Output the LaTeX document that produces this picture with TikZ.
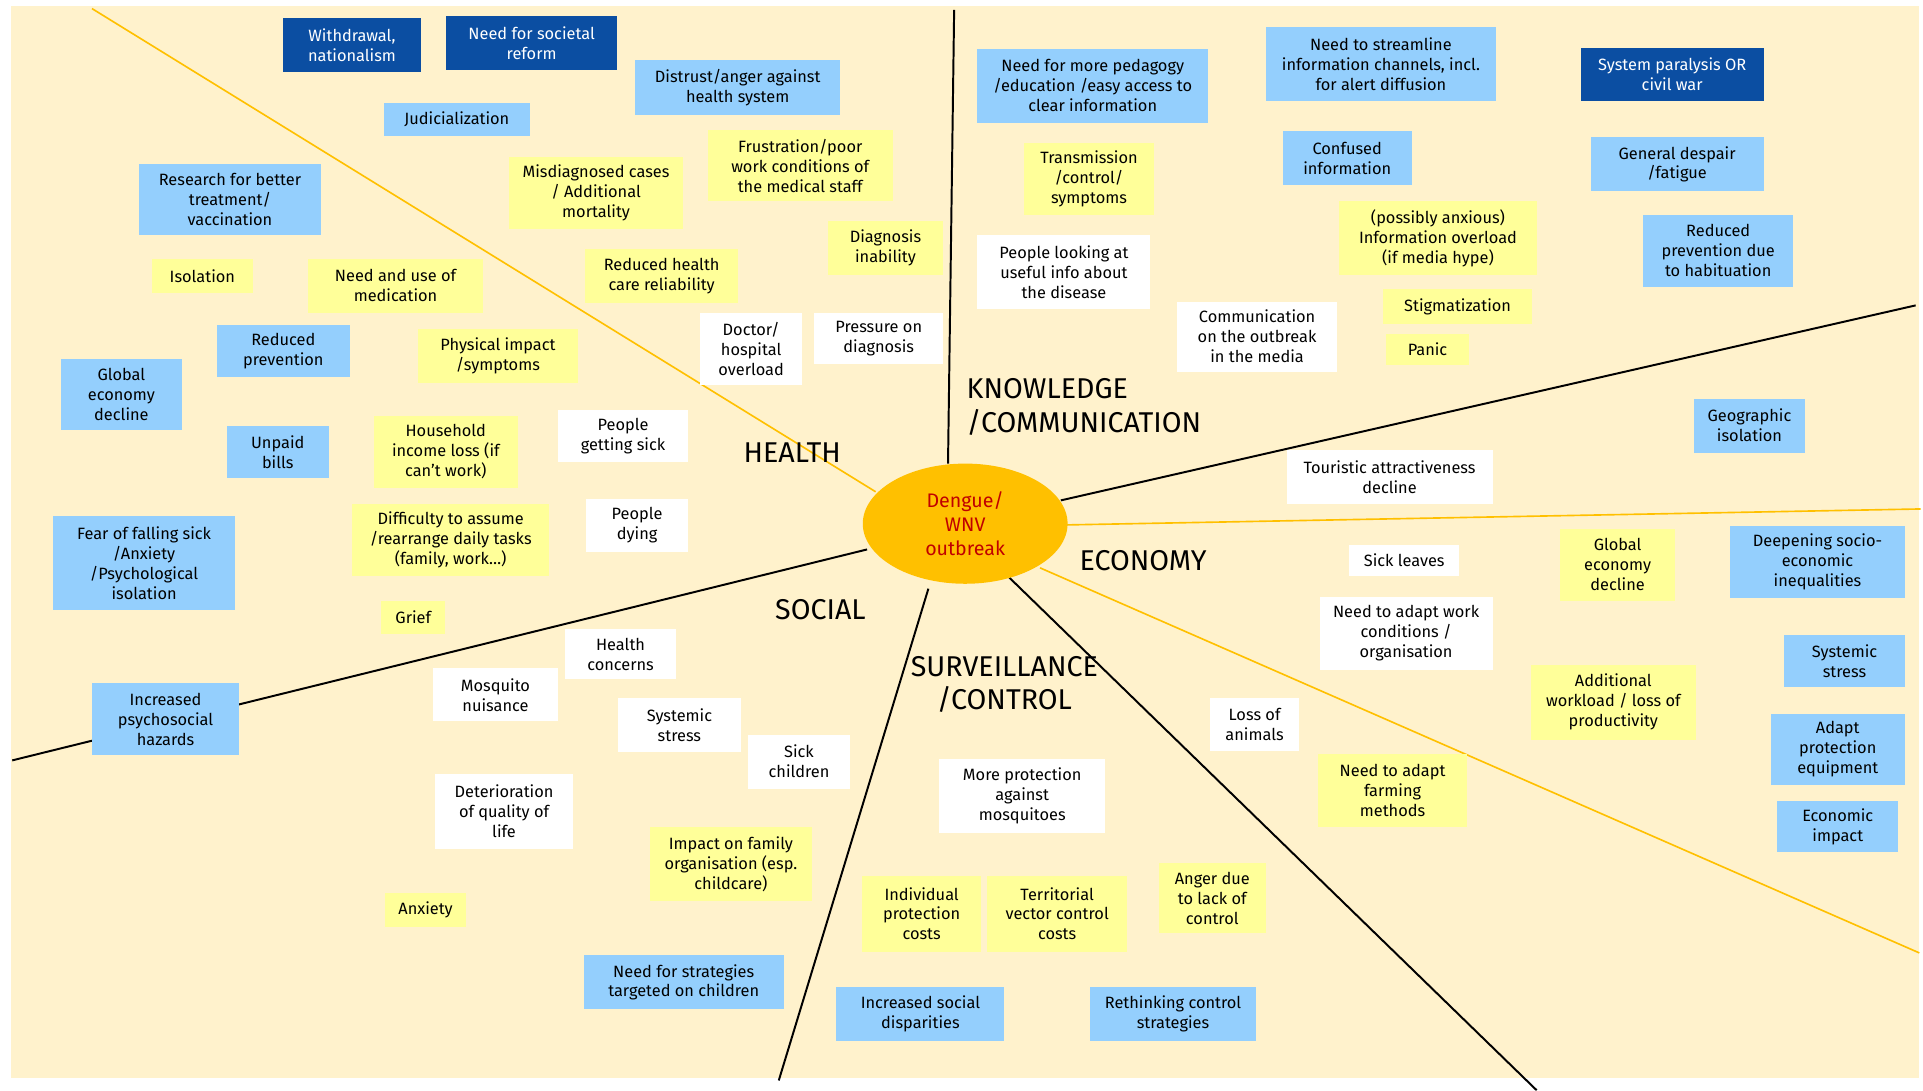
\documentclass[tikz,border=0pt]{standalone}
\usepackage{fontspec}
\setmainfont{Fira Sans}
\usetikzlibrary{shapes.geometric}
\definecolor{cream}{HTML}{FFF2CC}
\definecolor{dkblue}{HTML}{0B4EA2}
\definecolor{ltblue}{HTML}{94CFFD}
\definecolor{sticky}{HTML}{FFFF99}
\definecolor{gold}{HTML}{FFC000}
\definecolor{darkred}{HTML}{C00000}
\tikzset{
  box/.style={rectangle,inner sep=1pt,align=center,font=\fontsize{10}{12.2}\selectfont},
  dk/.style={fill=dkblue,text=white},
  lb/.style={fill=ltblue},
  yl/.style={fill=sticky},
  wh/.style={fill=white},
  cat/.style={inner sep=0pt,font=\fontsize{17.5}{20.5}\selectfont},
  blackdiv/.style={draw=black,line width=1.2pt},
  golddiv/.style={draw=gold,line width=1pt},
}
\newcommand\stickybox[7]{%
  \node[box,#2,minimum width={(#5-#3)*0.75pt},minimum height={(#6-#4)*0.75pt}] (#1) at ({(#3+#5)/2},{(#4+#6)/2}) {#7};}
\begin{document}
\begin{tikzpicture}[x=0.75pt,y=-0.75pt]
\useasboundingbox (0,0) rectangle (1568,889);
\fill[white] (0,0) rectangle (1568,889);
\fill[cream] (9,5) rectangle (1565,879);
% divider end points
\coordinate (hA) at (75,7);     \coordinate (hB) at (714,401);
\coordinate (kA) at (778,8);    \coordinate (kB) at (773,378);
\coordinate (e1A) at (865,408); \coordinate (e1B) at (1562,249);
\coordinate (e2A) at (870,428); \coordinate (e2B) at (1566,415);
\coordinate (e3A) at (848,463); \coordinate (e3B) at (1565,777);
\coordinate (s1A) at (823,471); \coordinate (s1B) at (1253,889);
\coordinate (s2A) at (757,480); \coordinate (s2B) at (635,881);
\coordinate (s3A) at (707,448); \coordinate (s3B) at (10,620);
\draw[golddiv] (hA) -- (hB);
\draw[blackdiv] (kA) -- (kB);
\draw[blackdiv] (e1A) -- (e1B);
\draw[golddiv] (e2A) -- (e2B);
\draw[golddiv] (e3A) -- (e3B);
\draw[blackdiv] (s1A) -- (s1B);
\draw[blackdiv] (s2A) -- (s2B);
\draw[blackdiv] (s3A) -- (s3B);
% centre
\node[ellipse,fill=gold,minimum width={167*0.75pt},minimum height={98*0.75pt},inner sep=0pt,align=center,text=darkred,font=\fontsize{12}{14.4}\selectfont] (core) at (787,427) {Dengue/\\WNV\\outbreak};
% category labels
\node[cat] (health) at (646,369) {HEALTH};
\node[cat,anchor=west,align=left] (know) at (788,332) {KNOWLEDGE\\/COMMUNICATION};
\node[cat] (econ) at (932,457) {ECONOMY};
\node[cat] (social) at (669,497) {SOCIAL};
\node[cat,align=center] (surv) at (819,558) {SURVEILLANCE\\/CONTROL};
% dark blue
\stickybox{withd}{dk}{231}{15}{343}{59}{Withdrawal,\\nationalism}
\stickybox{reform}{dk}{364}{13}{503}{57}{Need for societal\\reform}
\stickybox{paral}{dk}{1289}{39}{1438}{82}{System paralysis OR\\civil war}
% light blue
\stickybox{distrust}{lb}{518}{49}{685}{94}{Distrust/anger against\\health system}
\stickybox{judic}{lb}{313}{84}{432}{111}{Judicialization}
\stickybox{research}{lb}{113}{134}{262}{192}{Research for better\\treatment/\\vaccination}
\stickybox{redprev}{lb}{177}{265}{285}{307}{Reduced\\prevention}
\stickybox{globecoA}{lb}{50}{293}{148}{351}{Global\\economy\\decline}
\stickybox{unpaid}{lb}{185}{347}{268}{390}{Unpaid\\bills}
\stickybox{fear}{lb}{43}{421}{192}{497}{Fear of falling sick\\/Anxiety\\/Psychological\\isolation}
\stickybox{psycho}{lb}{75}{557}{195}{616}{Increased\\psychosocial\\hazards}
\stickybox{strat}{lb}{476}{779}{639}{823}{Need for strategies\\targeted on children}
\stickybox{disp}{lb}{682}{805}{819}{849}{Increased social\\disparities}
\stickybox{rethink}{lb}{889}{805}{1024}{849}{Rethinking control\\strategies}
\stickybox{pedag}{lb}{797}{40}{985}{100}{Need for more pedagogy\\/education /easy access to\\clear information}
\stickybox{stream}{lb}{1032}{22}{1220}{82}{Need to streamline\\information channels, incl.\\for alert diffusion}
\stickybox{confused}{lb}{1046}{107}{1151}{151}{Confused\\information}
\stickybox{despair}{lb}{1297}{112}{1438}{156}{General despair\\/fatigue}
\stickybox{habit}{lb}{1340}{175}{1462}{234}{Reduced\\prevention due\\to habituation}
\stickybox{geo}{lb}{1381}{325}{1472}{369}{Geographic\\isolation}
\stickybox{deep}{lb}{1411}{429}{1553}{488}{Deepening socio-\\economic\\inequalities}
\stickybox{sysstressB}{lb}{1455}{518}{1553}{560}{Systemic\\stress}
\stickybox{adapt}{lb}{1444}{582}{1553}{640}{Adapt\\protection\\equipment}
\stickybox{econimp}{lb}{1449}{653}{1548}{695}{Economic\\impact}
% yellow
\stickybox{frust}{yl}{577}{106}{728}{164}{Frustration/poor\\work conditions of\\the medical staff}
\stickybox{misdiag}{yl}{415}{128}{557}{187}{Misdiagnosed cases\\/ Additional\\mortality}
\stickybox{diaginab}{yl}{675}{180}{769}{224}{Diagnosis\\inability}
\stickybox{reliab}{yl}{477}{203}{602}{247}{Reduced health\\care reliability}
\stickybox{isol}{yl}{124}{211}{206}{239}{Isolation}
\stickybox{medic}{yl}{251}{211}{394}{255}{Need and use of\\medication}
\stickybox{phys}{yl}{341}{268}{471}{312}{Physical impact\\/symptoms}
\stickybox{income}{yl}{305}{339}{422}{398}{Household\\income loss (if\\can’t work)}
\stickybox{daily}{yl}{287}{411}{448}{470}{Difficulty to assume\\/rearrange daily tasks\\(family, work…)}
\stickybox{grief}{yl}{311}{490}{363}{517}{Grief}
\stickybox{anx}{yl}{314}{728}{380}{756}{Anxiety}
\stickybox{family}{yl}{530}{674}{662}{735}{Impact on family\\organisation (esp.\\childcare)}
\stickybox{indiv}{yl}{703}{714}{800}{776}{Individual\\protection\\costs}
\stickybox{territ}{yl}{805}{714}{919}{776}{Territorial\\vector control\\costs}
\stickybox{anger}{yl}{945}{704}{1032}{761}{Anger due\\to lack of\\control}
\stickybox{farm}{yl}{1075}{615}{1196}{674}{Need to adapt\\farming\\methods}
\stickybox{workload}{yl}{1248}{542}{1383}{603}{Additional\\workload / loss of\\productivity}
\stickybox{globecoB}{yl}{1272}{431}{1366}{490}{Global\\economy\\decline}
\stickybox{transm}{yl}{835}{117}{941}{175}{Transmission\\/control/\\symptoms}
\stickybox{overload}{yl}{1092}{164}{1253}{224}{(possibly anxious)\\Information overload\\(if media hype)}
\stickybox{stigma}{yl}{1128}{236}{1249}{264}{Stigmatization}
\stickybox{panic}{yl}{1130}{272}{1198}{298}{Panic}
% white
\stickybox{doctor}{wh}{571}{255}{654}{314}{Doctor/\\hospital\\overload}
\stickybox{pressure}{wh}{664}{255}{769}{297}{Pressure on\\diagnosis}
\stickybox{sick}{wh}{455}{334}{561}{377}{People\\getting sick}
\stickybox{dying}{wh}{478}{407}{561}{450}{People\\dying}
\stickybox{concern}{wh}{461}{513}{551}{554}{Health\\concerns}
\stickybox{mosq}{wh}{353}{545}{455}{588}{Mosquito\\nuisance}
\stickybox{sysstressA}{wh}{504}{569}{604}{613}{Systemic\\stress}
\stickybox{sickchild}{wh}{610}{599}{693}{643}{Sick\\children}
\stickybox{quality}{wh}{355}{631}{467}{692}{Deterioration\\of quality of\\life}
\stickybox{moreprot}{wh}{766}{619}{901}{679}{More protection\\against\\mosquitoes}
\stickybox{animals}{wh}{987}{569}{1059}{612}{Loss of\\animals}
\stickybox{workcond}{wh}{1076}{487}{1217}{546}{Need to adapt work\\conditions /\\organisation}
\stickybox{leaves}{wh}{1100}{444}{1190}{470}{Sick leaves}
\stickybox{tourism}{wh}{1049}{367}{1217}{411}{Touristic attractiveness\\decline}
\stickybox{lookinfo}{wh}{797}{192}{938}{252}{People looking at\\useful info about\\the disease}
\stickybox{media}{wh}{960}{246}{1090}{303}{Communication\\on the outbreak\\in the media}
\end{tikzpicture}
\end{document}
